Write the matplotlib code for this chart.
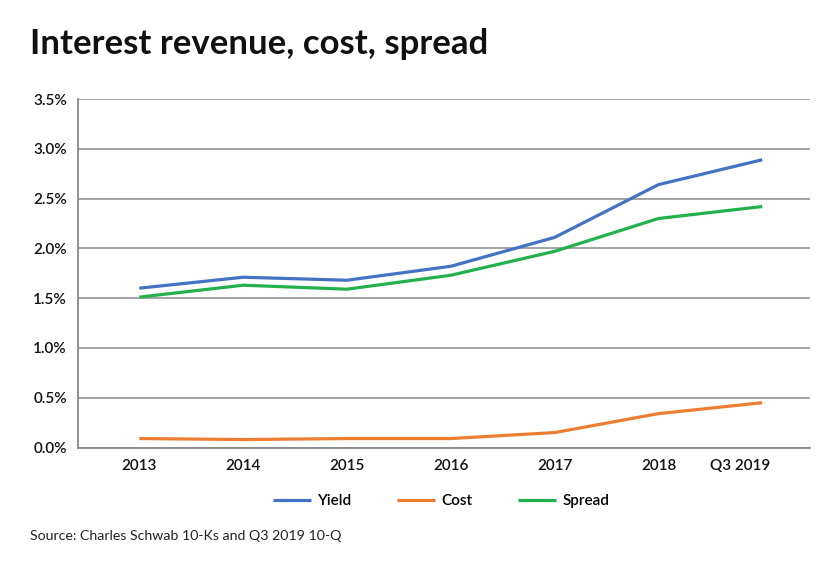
import numpy as np
import matplotlib
matplotlib.use('Agg')
import matplotlib.pyplot as plt
import matplotlib.transforms as mtransforms
from matplotlib.ticker import FuncFormatter

plt.rcParams['font.family'] = ['Lato', 'DejaVu Sans']

periods = ['2013', '2014', '2015', '2016', '2017', '2018', 'Q3 2019']
yield_pct = [1.60, 1.71, 1.68, 1.82, 2.11, 2.64, 2.89]
cost_pct = [0.09, 0.08, 0.09, 0.09, 0.15, 0.34, 0.45]
spread_pct = [1.51, 1.63, 1.59, 1.73, 1.97, 2.30, 2.42]

fig = plt.figure(figsize=(8.4, 5.7), dpi=100)
ax = fig.add_axes([0.0929, 0.2149, 0.8714, 0.6114])

x = np.arange(len(periods))
ax.plot(x, yield_pct, color='#4472C4', lw=2.3, label='Yield', solid_capstyle='butt')
ax.plot(x, cost_pct, color='#ED7D31', lw=2.3, label='Cost', solid_capstyle='butt')
ax.plot(x, spread_pct, color='#22B14C', lw=2.3, label='Spread', solid_capstyle='butt')

ax.set_xlim(-0.59, 6.46)
ax.set_ylim(0, 3.5)
ax.set_yticks(np.arange(0, 3.51, 0.5))
ax.yaxis.set_major_formatter(FuncFormatter(lambda v, p: '%.1f%%' % v))
ax.set_xticks(x)
ax.set_xticklabels(periods)
ax.grid(axis='y', color='#8a8a8a', lw=1.1)
ax.set_axisbelow(True)
for s in ['top', 'right']:
    ax.spines[s].set_visible(False)
for s in ['left', 'bottom']:
    ax.spines[s].set_color('#8a8a8a')
    ax.spines[s].set_linewidth(1.3)
ax.tick_params(length=0, labelsize=11, pad=8)
for lab in ax.get_xticklabels() + ax.get_yticklabels():
    lab.set_fontweight('semibold')
    lab.set_color('#111111')
# last category label sits a bit left of its point in the original
last = ax.get_xticklabels()[-1]
last.set_transform(last.get_transform() + mtransforms.ScaledTranslation(-0.22, 0, fig.dpi_scale_trans))

fig.legend(loc='center', bbox_to_anchor=(0.525, 0.121), ncol=3, frameon=False,
           handlelength=2.5, handletextpad=0.4, columnspacing=3.0,
           prop={'size': 11, 'weight': 'semibold'})

fig.text(0.036, 0.905, 'Interest revenue, cost, spread', fontsize=25,
         fontweight='bold', color='#111111', va='baseline')
fig.text(0.036, 0.052, 'Source: Charles Schwab 10-Ks and Q3 2019 10-Q',
         fontsize=10.2, color='#222222', va='baseline')

fig.savefig('out.png', dpi=100)
